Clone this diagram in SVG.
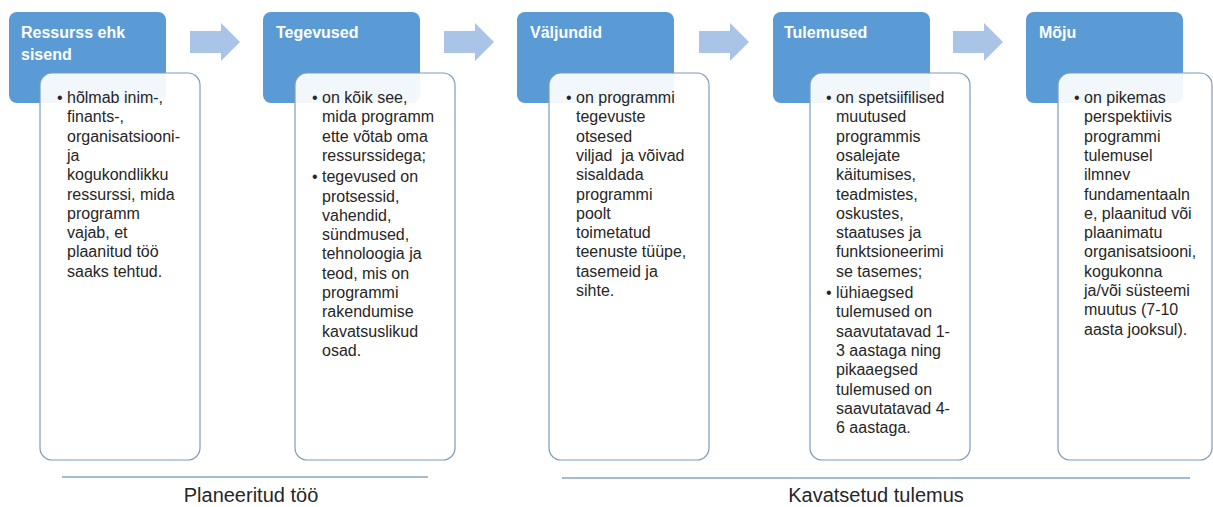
<svg xmlns="http://www.w3.org/2000/svg" width="1213" height="507" viewBox="0 0 1213 507">
<style>
.hdr{fill:#5b9bd5;}
.card{fill:#ffffff;fill-opacity:0.92;stroke:#7f9cba;stroke-width:1.2;}
.ht{font-family:"Liberation Sans",Arial,sans-serif;font-size:16px;font-weight:bold;fill:#ffffff;}
.bt{font-family:"Liberation Sans",Arial,sans-serif;font-size:16px;fill:#262626;white-space:pre;}
.arr{fill:#a9c4e6;}
.sep{stroke:#a3bccf;stroke-width:2;fill:none;}
.lbl{font-family:"Liberation Sans",Arial,sans-serif;font-size:20px;fill:#262626;text-anchor:middle;}
</style>
<defs>
<path id="arrow" d="M0,8 H31 V0 L50,19 L31,38 V30 H0 Z"/>
</defs>
<rect width="1213" height="507" fill="#ffffff"/>
<g id="connectors">
<use href="#arrow" class="arr" x="190" y="23"/>
<use href="#arrow" class="arr" x="444" y="23"/>
<use href="#arrow" class="arr" x="699" y="23"/>
<use href="#arrow" class="arr" x="953" y="23"/>
</g>
<g id="node1">
<rect class="hdr" x="9" y="12" width="157" height="91" rx="8"/>
<text class="ht" x="21" y="38">Ressurss ehk</text>
<text class="ht" x="21" y="60">sisend</text>
<rect class="card" x="40" y="73" width="160" height="387" rx="12"/>
<text class="bt" x="57" y="103">•</text>
<text class="bt"><tspan x="67" y="103">hõlmab inim-,</tspan><tspan x="67" y="122.3">finants-,</tspan><tspan x="67" y="141.6">organisatsiooni-</tspan><tspan x="67" y="160.9">ja</tspan><tspan x="67" y="180.2">kogukondlikku</tspan><tspan x="67" y="199.5">ressurssi, mida</tspan><tspan x="67" y="218.8">programm</tspan><tspan x="67" y="238.1">vajab, et</tspan><tspan x="67" y="257.4">plaanitud töö</tspan><tspan x="67" y="276.7">saaks tehtud.</tspan></text>
</g>
<g id="node2">
<rect class="hdr" x="263" y="12" width="157" height="91" rx="8"/>
<text class="ht" x="276" y="38">Tegevused</text>
<rect class="card" x="295" y="73" width="160" height="387" rx="12"/>
<text class="bt" x="312" y="103">•</text>
<text class="bt"><tspan x="322" y="103">on kõik see,</tspan><tspan x="322" y="122.3">mida programm</tspan><tspan x="322" y="141.6">ette võtab oma</tspan><tspan x="322" y="160.9">ressurssidega;</tspan></text>
<text class="bt" x="312" y="182.2">•</text>
<text class="bt"><tspan x="322" y="182.2">tegevused on</tspan><tspan x="322" y="201.5">protsessid,</tspan><tspan x="322" y="220.8">vahendid,</tspan><tspan x="322" y="240.1">sündmused,</tspan><tspan x="322" y="259.4">tehnoloogia ja</tspan><tspan x="322" y="278.7">teod, mis on</tspan><tspan x="322" y="298">programmi</tspan><tspan x="322" y="317.3">rakendumise</tspan><tspan x="322" y="336.6">kavatsuslikud</tspan><tspan x="322" y="355.9">osad.</tspan></text>
</g>
<g id="node3">
<rect class="hdr" x="517" y="12" width="157" height="91" rx="8"/>
<text class="ht" x="530" y="38">Väljundid</text>
<rect class="card" x="549" y="73" width="160" height="387" rx="12"/>
<text class="bt" x="566" y="103">•</text>
<text class="bt"><tspan x="576" y="103">on programmi</tspan><tspan x="576" y="122.3">tegevuste</tspan><tspan x="576" y="141.6">otsesed</tspan><tspan x="576" y="160.9">viljad  ja võivad</tspan><tspan x="576" y="180.2">sisaldada</tspan><tspan x="576" y="199.5">programmi</tspan><tspan x="576" y="218.8">poolt</tspan><tspan x="576" y="238.1">toimetatud</tspan><tspan x="576" y="257.4">teenuste tüüpe,</tspan><tspan x="576" y="276.7">tasemeid ja</tspan><tspan x="576" y="296">sihte.</tspan></text>
</g>
<g id="node4">
<rect class="hdr" x="773" y="12" width="157" height="91" rx="8"/>
<text class="ht" x="784" y="38">Tulemused</text>
<rect class="card" x="810" y="73" width="160" height="387" rx="12"/>
<text class="bt" x="826" y="103">•</text>
<text class="bt"><tspan x="836" y="103">on spetsiifilised</tspan><tspan x="836" y="122.3">muutused</tspan><tspan x="836" y="141.6">programmis</tspan><tspan x="836" y="160.9">osalejate</tspan><tspan x="836" y="180.2">käitumises,</tspan><tspan x="836" y="199.5">teadmistes,</tspan><tspan x="836" y="218.8">oskustes,</tspan><tspan x="836" y="238.1">staatuses ja</tspan><tspan x="836" y="257.4">funktsioneerimi</tspan><tspan x="836" y="276.7">se tasemes;</tspan></text>
<text class="bt" x="826" y="298">•</text>
<text class="bt"><tspan x="836" y="298">lühiaegsed</tspan><tspan x="836" y="317.3">tulemused on</tspan><tspan x="836" y="336.6">saavutatavad 1-</tspan><tspan x="836" y="355.9">3 aastaga ning</tspan><tspan x="836" y="375.2">pikaaegsed</tspan><tspan x="836" y="394.5">tulemused on</tspan><tspan x="836" y="413.8">saavutatavad 4-</tspan><tspan x="836" y="433.1">6 aastaga.</tspan></text>
</g>
<g id="node5">
<rect class="hdr" x="1026" y="12" width="157" height="91" rx="8"/>
<text class="ht" x="1039" y="38">Mõju</text>
<rect class="card" x="1058" y="73" width="154" height="387" rx="12"/>
<text class="bt" x="1074" y="103">•</text>
<text class="bt"><tspan x="1084" y="103">on pikemas</tspan><tspan x="1084" y="122.3">perspektiivis</tspan><tspan x="1084" y="141.6">programmi</tspan><tspan x="1084" y="160.9">tulemusel</tspan><tspan x="1084" y="180.2">ilmnev</tspan><tspan x="1084" y="199.5">fundamentaaln</tspan><tspan x="1084" y="218.8">e, plaanitud või</tspan><tspan x="1084" y="238.1">plaanimatu</tspan><tspan x="1084" y="257.4">organisatsiooni,</tspan><tspan x="1084" y="276.7">kogukonna</tspan><tspan x="1084" y="296">ja/või süsteemi</tspan><tspan x="1084" y="315.3">muutus (7-10</tspan><tspan x="1084" y="334.6">aasta jooksul).</tspan></text>
</g>
<g id="group-planned">
<line class="sep" x1="62" y1="477" x2="428" y2="477"/>
<text class="lbl" x="251" y="502">Planeeritud töö</text>
</g>
<g id="group-intended">
<line class="sep" x1="562" y1="478" x2="1190" y2="478"/>
<text class="lbl" x="876" y="502">Kavatsetud tulemus</text>
</g>
</svg>
